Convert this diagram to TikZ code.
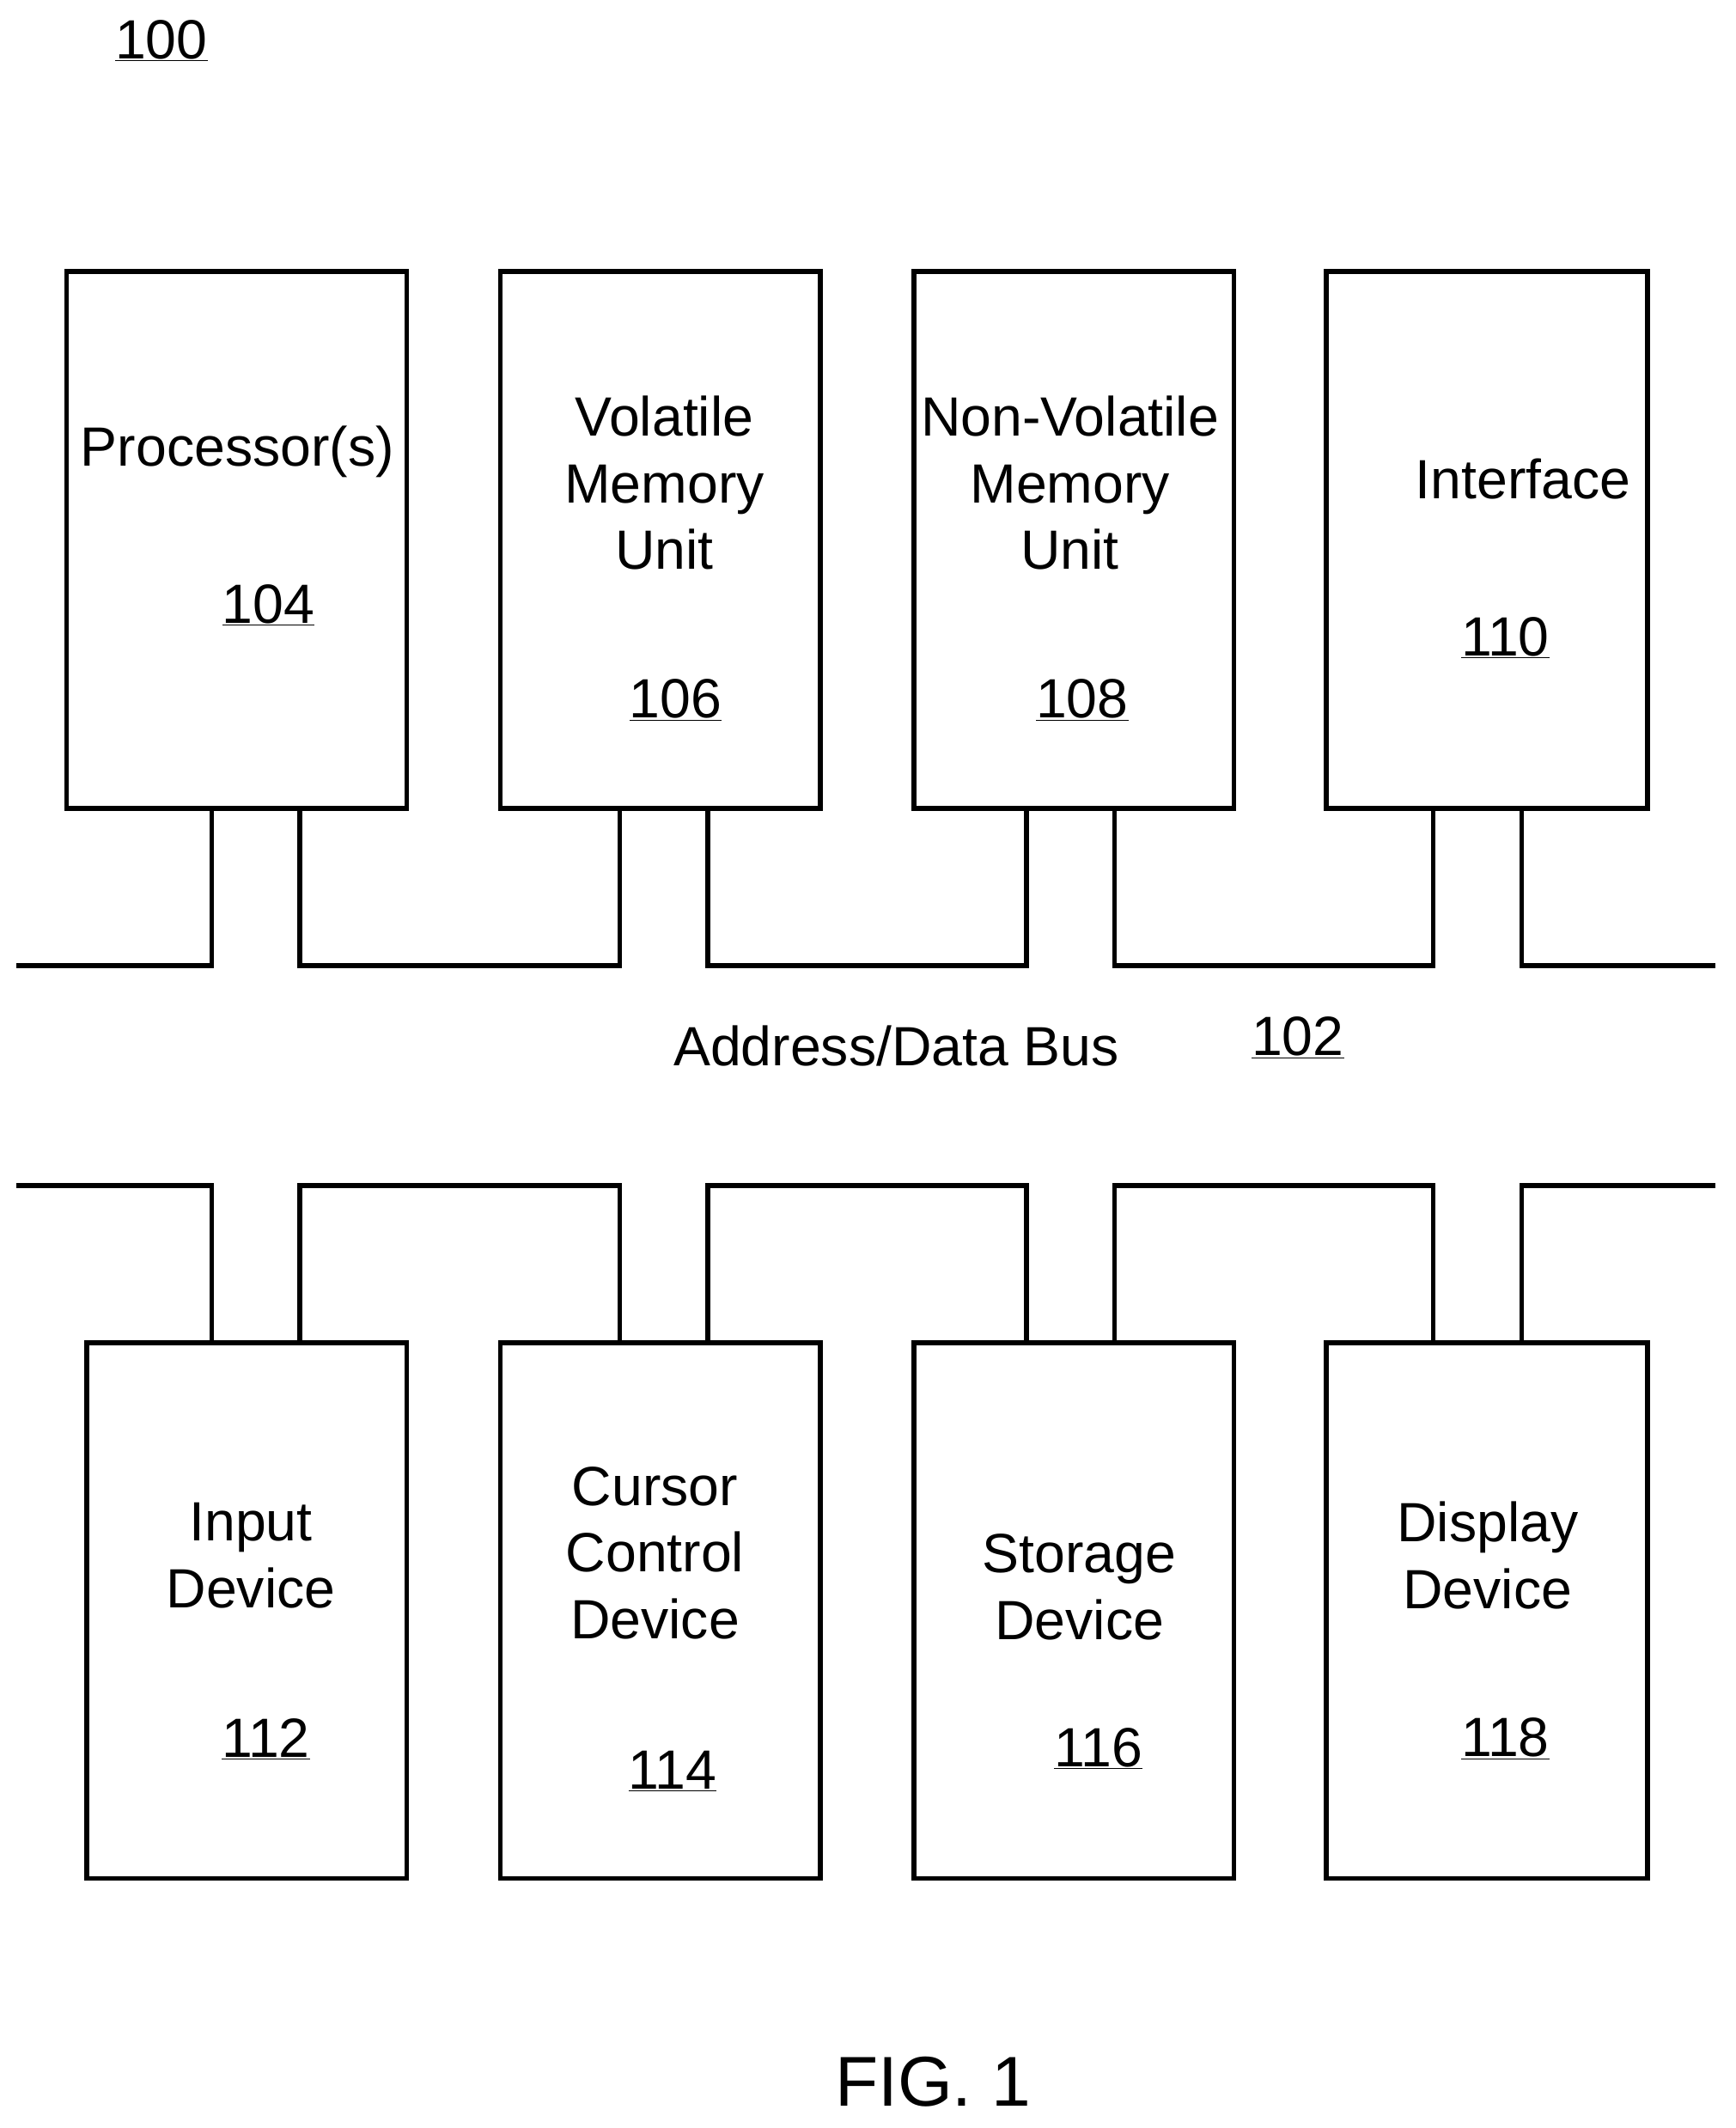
\documentclass[tikz,border=0pt]{standalone}
\usepackage{fontspec}
\setmainfont{Liberation Sans}
\begin{document}
\begin{tikzpicture}[x=0.05cm,y=-0.05cm,
  box/.style={draw,line width=5pt,line join=miter},
  ln/.style={line width=5pt},
  t/.style={font=\fontsize{58}{70}\selectfont,align=center,inner sep=0pt}]
\useasboundingbox (0,0) rectangle (1280,1569);
% top boxes
\draw[box] (49,200) rectangle (300,596);
\draw[box] (369,200) rectangle (605,596);
\draw[box] (674,200) rectangle (910,596);
\draw[box] (978,200) rectangle (1215,596);
% bottom boxes
\draw[box] (64,990) rectangle (300,1385);
\draw[box] (369,990) rectangle (605,1385);
\draw[box] (674,990) rectangle (910,1385);
\draw[box] (978,990) rectangle (1215,1385);
% bus top
\draw[ln] (12,712) -- (156,712) -- (156,596);
\draw[ln] (221,596) -- (221,712) -- (457,712) -- (457,596);
\draw[ln] (522,596) -- (522,712) -- (757,712) -- (757,596);
\draw[ln] (822,596) -- (822,712) -- (1057,712) -- (1057,596);
\draw[ln] (1122,596) -- (1122,712) -- (1265,712);
% bus bottom
\draw[ln] (12,874) -- (156,874) -- (156,990);
\draw[ln] (221,990) -- (221,874) -- (457,874) -- (457,990);
\draw[ln] (522,990) -- (522,874) -- (757,874) -- (757,990);
\draw[ln] (822,990) -- (822,874) -- (1057,874) -- (1057,990);
\draw[ln] (1122,990) -- (1122,874) -- (1265,874);
% texts
\node[t] (n100) at (119,30) {\underline{100}};
\node[t] (n104a) at (175,333) {Processor(s)};
\node[t] (n104) at (198,446) {\underline{104}};
\node[t] (n106a) at (490,356) {Volatile\\Memory\\Unit};
\node[t] (n106) at (498,516) {\underline{106}};
\node[t] (n108a) at (789,356) {Non-Volatile\\Memory\\Unit};
\node[t] (n108) at (798,516) {\underline{108}};
\node[t] (n110a) at (1123,353) {Interface};
\node[t] (n110) at (1110,470) {\underline{110}};
\node[t] (n102a) at (661,771) {Address/Data Bus};
\node[t] (n102) at (957,765) {\underline{102}};
\node[t] (n112a) at (185,1147) {Input\\Device};
\node[t] (n112) at (196,1282) {\underline{112}};
\node[t] (n114a) at (483,1145) {Cursor\\Control\\Device};
\node[t] (n114) at (496,1306) {\underline{114}};
\node[t] (n116a) at (796,1170) {Storage\\Device};
\node[t] (n116) at (810,1289) {\underline{116}};
\node[t] (n118a) at (1097,1147) {Display\\Device};
\node[t] (n118) at (1110,1282) {\underline{118}};
\node[t,font=\fontsize{74}{86}\selectfont] (fig) at (688,1535) {FIG. 1};
\end{tikzpicture}
\end{document}
